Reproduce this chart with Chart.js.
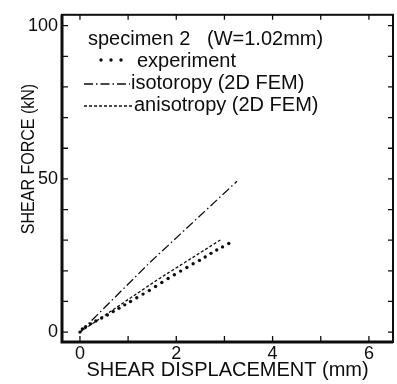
<!DOCTYPE html>
<html>
<head>
<meta charset="utf-8">
<script src="https://cdn.jsdelivr.net/npm/chart.js@4"></script>
<style>
  html, body { margin: 0; padding: 0; background: #fff; }
  canvas { display: block; }
</style>
</head>
<body>
<canvas id="grafico" width="397" height="384"></canvas>
<script>
// measured points (displacement mm, force kN)
var expX = [0, 0.05, 0.12, 0.22, 0.33, 0.45, 0.57, 0.69, 0.81, 0.93, 1.05, 1.18, 1.31, 1.44,
            1.57, 1.70, 1.83, 1.96, 2.09, 2.22, 2.35, 2.48, 2.60, 2.72, 2.84, 2.96, 3.09]
var expY = [0, 1.0, 1.8, 2.7, 3.6, 4.6, 5.6, 6.7, 7.8, 8.9, 10.0, 11.2, 12.4, 13.6,
            14.9, 16.2, 17.5, 18.7, 19.9, 21.1, 22.3, 23.4, 24.5, 25.7, 26.8, 27.8, 28.9]

// FEM results
var isoX = [0, 1.45, 3.26]
var isoY = [0, 22.7, 49.2]
var anisoX = [0, 1.62, 2.95]
var anisoY = [0, 17.2, 30.4]

var xLabels = [0, 2, 4, 6]
var yLabels = [0, 50, 100]

var ink = "#0d0d0d"
var fonte = "Liberation Sans, Arial, Helvetica, sans-serif"

function pares(xs, ys) {
  return xs.map((v, i) => ({ x: v, y: ys[i] }))
}

// frame, inward ticks, axis titles and the legend box
var moldura = {
  id: "moldura",
  afterDraw: function (chart) {
    var ctx = chart.ctx
    var a = chart.chartArea
    var sx = chart.scales.x
    var sy = chart.scales.y
    ctx.save()
    ctx.strokeStyle = ink
    ctx.lineWidth = 1.3
    // ticks on all four sides
    ctx.beginPath()
    for (var v = 0; v <= 6; v++) {
      var px = sx.getPixelForValue(v)
      ctx.moveTo(px, a.bottom); ctx.lineTo(px, a.bottom - 6)
      ctx.moveTo(px, a.top); ctx.lineTo(px, a.top + 5)
    }
    for (var w = 0; w <= 100; w += 10) {
      var py = sy.getPixelForValue(w)
      ctx.moveTo(a.left, py); ctx.lineTo(a.left + 6, py)
      ctx.moveTo(a.right, py); ctx.lineTo(a.right - 5, py)
    }
    ctx.stroke()
    // box
    ctx.lineWidth = 2
    ctx.strokeRect(a.left, a.top, a.right - a.left, a.bottom - a.top)
    ctx.lineWidth = 3
    ctx.beginPath()
    ctx.moveTo(a.left, a.top); ctx.lineTo(a.left, a.bottom); ctx.lineTo(a.right, a.bottom)
    ctx.stroke()

    // axis titles
    ctx.fillStyle = ink
    ctx.textAlign = "center"
    ctx.textBaseline = "middle"
    ctx.font = "20px " + fonte
    ctx.fillText("SHEAR DISPLACEMENT (mm)", (a.left + a.right) / 2, 370)
    ctx.save()
    ctx.translate(29, 159)
    ctx.rotate(-Math.PI / 2)
    ctx.scale(0.89, 1)
    ctx.font = "18px " + fonte
    ctx.fillText("SHEAR FORCE (kN)", 0, 0)
    ctx.restore()

    // legend
    ctx.textAlign = "left"
    ctx.textBaseline = "alphabetic"
    ctx.font = "20px " + fonte
    ctx.fillText("specimen 2", 88, 45)
    ctx.fillText("(W=1.02mm)", 207, 45)
    ctx.fillText("experiment", 137, 67)
    ctx.fillText("isotoropy (2D FEM)", 131, 89)
    ctx.fillText("anisotropy (2D FEM)", 134, 111)

    var ds = chart.data.datasets
    ctx.fillStyle = ds[0].backgroundColor
    ;[101, 111, 121].forEach(function (cx) {
      ctx.beginPath(); ctx.arc(cx, 60, ds[0].pointRadius, 0, Math.PI * 2); ctx.fill()
    })
    ctx.strokeStyle = ds[1].borderColor
    ctx.lineWidth = ds[1].borderWidth
    ctx.setLineDash(ds[1].borderDash)
    ctx.beginPath(); ctx.moveTo(84, 84); ctx.lineTo(130, 84); ctx.stroke()
    ctx.strokeStyle = ds[2].borderColor
    ctx.lineWidth = ds[2].borderWidth
    ctx.setLineDash(ds[2].borderDash)
    ctx.beginPath(); ctx.moveTo(84, 106); ctx.lineTo(133, 106); ctx.stroke()
    ctx.restore()
  }
}

function soInteiros(lista) {
  return function (scale) {
    scale.ticks = lista.map(v => ({ value: v }))
  }
}

new Chart(document.getElementById("grafico").getContext("2d"), {
  type: "scatter",
  data: {
    datasets: [
      {
        label: "experiment",
        data: pares(expX, expY),
        showLine: false,
        pointRadius: 1.7,
        pointBorderWidth: 0,
        backgroundColor: ink,
        borderColor: ink
      },
      {
        label: "isotoropy (2D FEM)",
        data: pares(isoX, isoY),
        showLine: true,
        pointRadius: 0,
        borderWidth: 1.3,
        borderDash: [9, 3, 1.5, 3],
        borderColor: ink,
        backgroundColor: ink
      },
      {
        label: "anisotropy (2D FEM)",
        data: pares(anisoX, anisoY),
        showLine: true,
        pointRadius: 0,
        borderWidth: 1.3,
        borderDash: [3, 2],
        borderColor: ink,
        backgroundColor: ink
      }
    ]
  },
  options: {
    responsive: false,
    animation: false,
    devicePixelRatio: 1,
    layout: { padding: { top: 11, right: 3, left: 0, bottom: 0 } },
    plugins: {
      legend: { display: false },
      tooltip: { enabled: false }
    },
    scales: {
      x: {
        type: "linear",
        min: -0.373,
        max: 6.5,
        grid: { display: false, drawTicks: false },
        border: { display: false },
        afterBuildTicks: soInteiros(xLabels),
        afterFit: function (s) { s.height = 42 },
        ticks: {
          autoSkip: false,
          maxRotation: 0,
          padding: 1,
          color: ink,
          font: { family: fonte, size: 18 }
        }
      },
      y: {
        type: "linear",
        min: -3.23,
        max: 103.55,
        grid: { display: false, drawTicks: false },
        border: { display: false },
        afterBuildTicks: soInteiros(yLabels),
        afterFit: function (s) { s.width = 62 },
        ticks: {
          autoSkip: false,
          padding: 4,
          color: ink,
          font: { family: fonte, size: 18 }
        }
      }
    }
  },
  plugins: [moldura]
});
</script>
</body>
</html>
